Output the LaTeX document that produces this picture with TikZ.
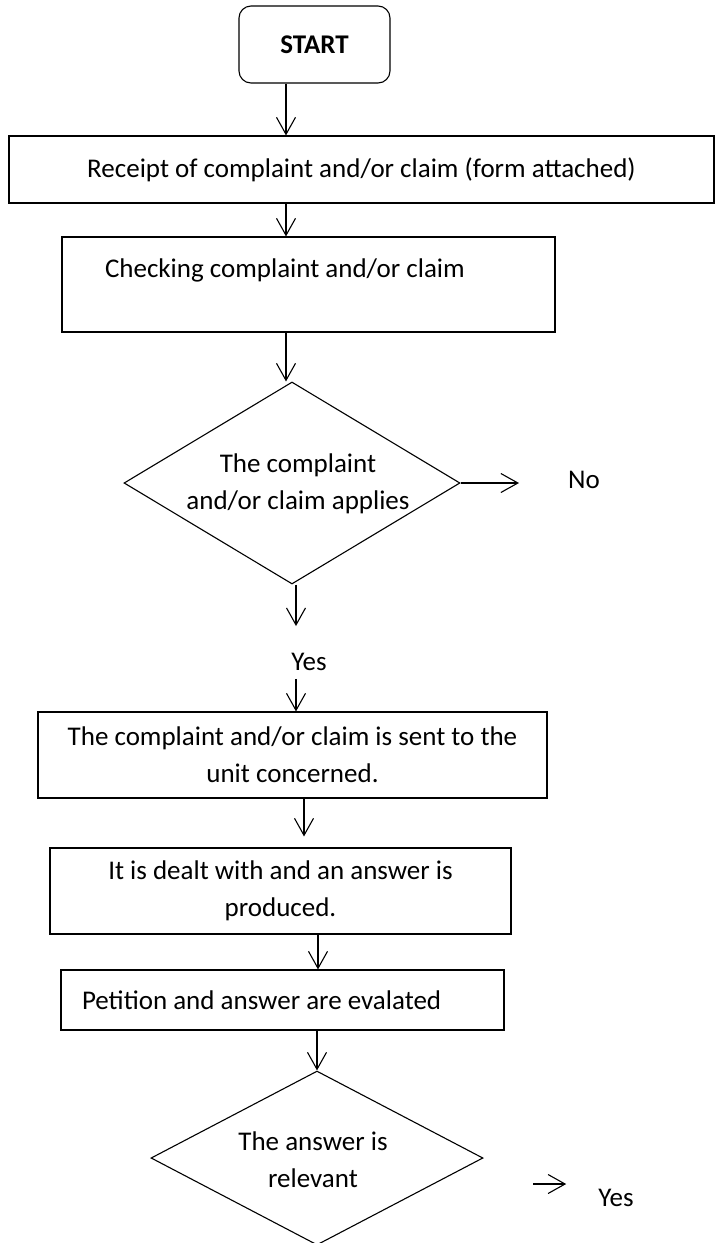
\documentclass[tikz,border=0pt]{standalone}
\usepackage{fontspec}
\setmainfont{Carlito}
\usetikzlibrary{shapes.geometric,arrows.meta,positioning}

\begin{document}
\begin{tikzpicture}[x=1pt,y=-1pt,
  font=\fontsize{27}{37}\selectfont,
  box/.style={draw, line width=1.1pt, inner sep=0pt, align=center},
  decision/.style={draw, diamond, line width=1.1pt, inner sep=0pt},
  arr/.style={-{Straight Barb[length=17pt,width=19pt,line width=1.1pt]}, line width=1.1pt}]
  \useasboundingbox (0,0) rectangle (716,1243);
  % Arrow columns
  \coordinate (c1) at (286,0);
  \coordinate (c2) at (296,0);
  \coordinate (c3) at (304,0);
  \coordinate (c4) at (318,0);
  \coordinate (c5) at (317,0);
  % Boxes
  \node[box, rounded corners=12pt, minimum width=151pt, minimum height=77pt, font=\fontsize{27}{37}\selectfont\bfseries] (start) at (314.5,44.5) {START};
  \node[box, minimum width=705pt, minimum height=67pt] (recv) at (361.5,169.5) {Receipt of complaint and/or claim (form attached)};
  \node[box, minimum width=493pt, minimum height=95pt, text width=407pt, inner xsep=43pt, align=flush left, text depth=32pt] (check) at (308.5,284.5) {Checking complaint and/or claim};
  % First decision
  \node[decision, minimum width=336pt, minimum height=202pt] (dec1) at (292,483) {};
  \node[align=center] (dec1txt) at (298,484) {The complaint\\and/or claim applies};
  \node[anchor=west, inner sep=0pt] (no) at (568,480) {No};
  \node[inner sep=0pt] (yes1) at (309,662) {Yes};
  % Further boxes
  \node[box, minimum width=509pt, minimum height=86pt] (sent) at (292.5,755) {The complaint and/or claim is sent to the\\unit concerned.};
  \node[box, minimum width=461pt, minimum height=86pt] (dealt) at (280.5,891) {It is dealt with and an answer is\\produced.};
  \node[box, minimum width=443pt, minimum height=60pt, text width=401pt, inner xsep=21pt, align=flush left] (eval) at (282.5,1000) {Petition and answer are evalated};
  % Second decision
  \node[decision, minimum width=332pt, minimum height=174pt] (dec2) at (317,1158) {};
  \node[align=center] (dec2txt) at (313,1160) {The answer is\\relevant};
  \coordinate (yarrow) at (533,1184);
  \node[inner sep=0pt] (yes2) at (616,1198) {Yes};
  % Connectors
  \draw[arr] (start.south -| c1) -- (recv.north -| c1);
  \draw[arr] (recv.south -| c1) -- (check.north -| c1);
  \draw[arr] (check.south -| c1) -- (dec1.north -| c1);
  \draw[arr, shorten >=49pt] (dec1.east) -- (dec1.east -| no.west);
  \draw[arr, shorten >=27pt] (dec1.south -| c2) -- (yes1.north -| c2);
  \draw[arr, shorten <=8pt] (yes1.south -| c2) -- (sent.north -| c2);
  \draw[arr, shorten >=11pt] (sent.south -| c3) -- (dealt.north -| c3);
  \draw[arr] (dealt.south -| c4) -- (eval.north -| c4);
  \draw[arr] (eval.south -| c5) -- (dec2.north -| c5);
  \draw[arr, shorten >=32pt] (yarrow) -- (yarrow -| yes2.west);
\end{tikzpicture}
\end{document}
